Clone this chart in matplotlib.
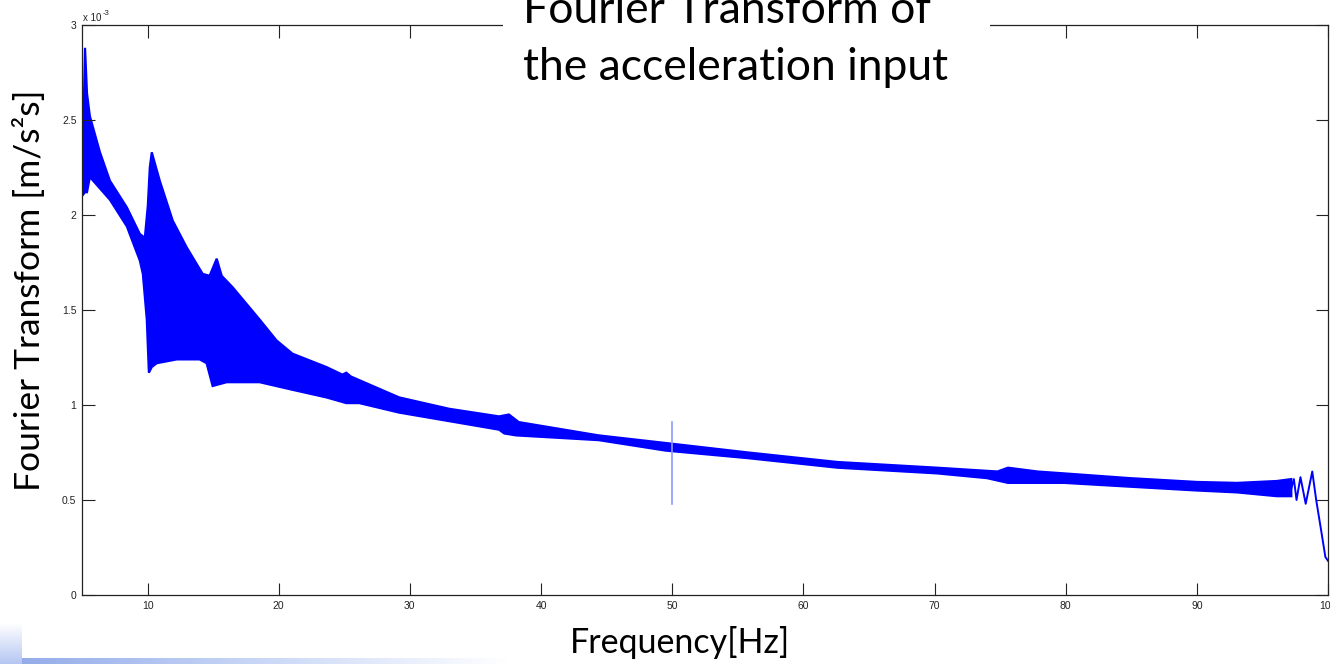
import numpy as np
import matplotlib.pyplot as plt
from matplotlib.patches import Rectangle
from matplotlib.colors import LinearSegmentedColormap

# amplitudes in units of 1e-3 m/s^2 s
upper_f = [5.0, 5.23, 5.38, 5.6, 6.37, 7.13, 8.42, 9.41, 9.79, 10.02, 10.17, 10.32,
           10.93, 11.92, 12.98, 14.2, 14.73, 15.27, 15.65, 16.48, 18.54, 19.83, 21.05,
           23.63, 24.85, 25.15, 25.5, 29.18, 33.0, 36.8, 37.55, 38.3, 44.4, 49.5,
           55.8, 62.6, 70.2, 74.8, 75.6, 77.85, 79.9, 84.9, 90.0, 93.06, 96.1, 97.2]
upper_v = [2.10, 2.88, 2.64, 2.52, 2.33, 2.18, 2.04, 1.90, 1.88, 2.05, 2.25, 2.33,
           2.18, 1.97, 1.83, 1.69, 1.68, 1.77, 1.68, 1.62, 1.45, 1.34, 1.27,
           1.20, 1.16, 1.17, 1.15, 1.04, 0.98, 0.94, 0.95, 0.91, 0.84, 0.80,
           0.75, 0.70, 0.67, 0.65, 0.67, 0.65, 0.64, 0.615, 0.595, 0.59, 0.60, 0.61]

lower_f = [5.0, 5.23, 5.38, 5.6, 7.13, 8.42, 9.41, 9.64, 9.94, 10.1, 10.32, 10.7,
           12.22, 13.97, 14.5, 14.96, 16.03, 18.54, 21.05, 23.63, 25.15, 26.14,
           29.18, 36.8, 37.2, 38.1, 44.4, 49.5, 55.8, 62.6, 70.2, 74.0, 75.6,
           77.85, 79.9, 84.9, 90.0, 93.06, 96.1, 97.2]
lower_v = [2.10, 2.12, 2.12, 2.20, 2.08, 1.94, 1.76, 1.69, 1.45, 1.17, 1.20, 1.22,
           1.24, 1.24, 1.22, 1.10, 1.12, 1.12, 1.08, 1.04, 1.01, 1.01,
           0.96, 0.87, 0.85, 0.84, 0.815, 0.76, 0.72, 0.67, 0.64, 0.615, 0.59,
           0.59, 0.59, 0.57, 0.55, 0.54, 0.52, 0.52]

# oscillating tail close to 100 Hz
tail_f = [97.2, 97.4, 97.6, 97.9, 98.3, 98.8, 99.1, 99.5, 99.8, 100.0]
tail_v = [0.56, 0.61, 0.50, 0.62, 0.48, 0.65, 0.50, 0.33, 0.20, 0.18]

# single-bin spikes
spike_f = [5.02, 50.0]
spike_lo = [1.57, 0.48]
spike_hi = [2.69, 0.91]

xticks = [10, 20, 30, 40, 50, 60, 70, 80, 90, 100]
yticks = [0, 0.5, 1, 1.5, 2, 2.5, 3]
ytick_labels = ['0', '0.5', '1', '1.5', '2', '2.5', '3']

W, H = 1330, 664
fig = plt.figure(figsize=(W / 100, H / 100), dpi=100)
ax = fig.add_axes([82 / W, 69 / H, (1328 - 82) / W, (595 - 25) / H])

blue = (0, 0, 1)
poly_f = np.concatenate([upper_f, lower_f[::-1]])
poly_v = np.concatenate([upper_v, lower_v[::-1]])
ax.fill(poly_f, poly_v, color=blue, lw=1.6, ec=blue)
ax.plot(tail_f, tail_v, color=blue, lw=1.4)
for f, lo, hi in zip(spike_f, spike_lo, spike_hi):
    ax.plot([f, f], [lo, hi], color=(0.55, 0.6, 1.0), lw=1.2)

ax.set_xlim(5, 100)
ax.set_ylim(0, 3)
ax.set_xticks(xticks)
ax.set_yticks(yticks)
ax.set_yticklabels(ytick_labels)
ax.tick_params(direction='in', length=9, width=0.8, top=True, right=True,
               labelsize=7.5, colors='#222222', pad=4)
for lab in ax.get_xticklabels() + ax.get_yticklabels():
    lab.set_family('Liberation Sans')
for s in ax.spines.values():
    s.set_linewidth(0.9)
    s.set_color('#222222')

fig.text(83 / W, 1 - 21 / H, 'x 10', fontsize=7, family='Liberation Sans',
         color='#222222', va='baseline')
fig.text(103 / W, 1 - 15 / H, '-3', fontsize=5.5, family='Liberation Sans',
         color='#222222', va='baseline')

# title box covering the top spine
fig.patches.append(Rectangle((503 / W, 1 - 95 / H), (990 - 503) / W, 95 / H,
                             transform=fig.transFigure, fc='white', ec='none', zorder=5))
fig.text(523 / W, 1 - 23 / H, 'Fourier Transform of', fontsize=32, family='Lato',
         va='baseline', ha='left', zorder=6)
fig.text(523 / W, 1 - 80 / H, 'the acceleration input', fontsize=32, family='Lato',
         va='baseline', ha='left', zorder=6)

fig.text(30 / W, 1 - 290 / H, 'Fourier Transform [m/s²s]', fontsize=25.5, family='Lato',
         rotation=90, ha='center', va='center')
fig.text(680 / W, 1 - 653 / H, 'Frequency[Hz]', fontsize=24.5, family='Lato',
         ha='center', va='baseline')

# slide decoration at bottom left
cmap = LinearSegmentedColormap.from_list('deco', ['#8fa8e8', '#c8d6f6', '#ffffff'])
deco = fig.add_axes([0, 0, 510 / W, 6 / H])
deco.imshow(np.linspace(0, 1, 256)[None, :], aspect='auto', cmap=cmap)
deco.axis('off')
block = fig.add_axes([0, 0, 22 / W, 41 / H])
block.imshow(np.linspace(0, 1, 64)[:, None], aspect='auto',
             cmap=LinearSegmentedColormap.from_list('blk', ['#ffffff', '#b4c6f2']))
block.axis('off')

fig.savefig('out.png', dpi=100)
